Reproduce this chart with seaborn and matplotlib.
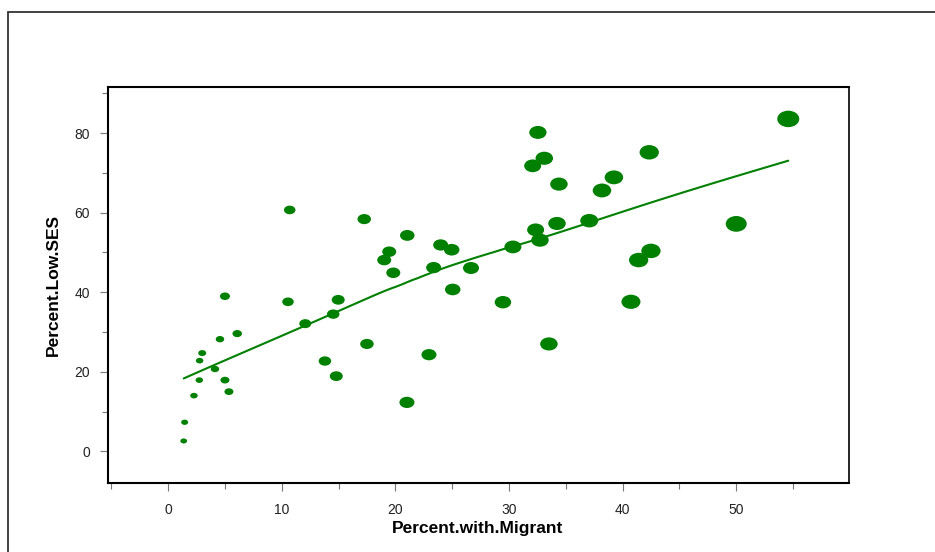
import numpy as np
import pandas as pd
import matplotlib
matplotlib.use("Agg")
import matplotlib.pyplot as plt
from matplotlib.path import Path
from matplotlib.transforms import Affine2D
from matplotlib.patches import Rectangle
import seaborn as sns

# Share of pupils with migrant background vs. share with low SES, per school
pct_migrant = [1.36, 1.44, 2.26, 2.73, 2.76, 2.99, 4.11, 4.55, 4.99, 4.99,
               5.34, 6.07, 10.69, 10.54, 12.06, 13.79, 14.52, 14.79, 14.96, 17.25,
               17.49, 19.01, 19.45, 19.81, 21.04, 21.01, 22.95, 23.36, 23.98, 24.95,
               25.04, 26.65, 29.46, 30.34, 32.08, 32.54, 33.10, 32.34, 32.72, 33.51,
               34.22, 34.39, 37.06, 38.18, 39.23, 40.73, 41.41, 42.49, 42.34, 50.00,
               54.58]
pct_low_ses = [2.6, 7.3, 14.0, 17.9, 22.8, 24.7, 20.7, 28.2, 39.0, 17.9,
               15.0, 29.6, 60.7, 37.6, 32.1, 22.7, 34.5, 18.9, 38.1, 58.4,
               27.0, 48.1, 50.2, 44.9, 54.3, 12.3, 24.3, 46.2, 51.9, 50.7,
               40.7, 46.1, 37.5, 51.4, 71.8, 80.2, 73.7, 55.7, 53.1, 27.0,
               57.3, 67.2, 58.0, 65.6, 68.9, 37.6, 48.1, 50.4, 75.2, 57.2,
               83.6]
weight = [6.7, 7.0, 7.5, 7.5, 7.5, 8.0, 8.5, 8.5, 10.0, 9.0,
          9.0, 9.5, 11.5, 11.5, 12.0, 12.5, 12.5, 13.0, 13.0, 13.5,
          13.5, 14.0, 14.0, 14.0, 14.5, 15.0, 15.0, 15.0, 15.0, 15.5,
          15.5, 16.0, 16.5, 17.0, 17.0, 17.3, 17.5, 17.0, 17.5, 17.5,
          17.5, 17.5, 18.0, 18.5, 18.5, 19.0, 19.3, 19.3, 19.3, 21.0,
          22.0]

x_ticks_major = [0, 10, 20, 30, 40, 50]
y_ticks_major = [0, 20, 40, 60, 80]

df = pd.DataFrame({"Percent.with.Migrant": pct_migrant,
                   "Percent.Low.SES": pct_low_ses,
                   "weight": weight})
# marker area grows with the square of the weight (diameter-like)
df["area"] = (df["weight"] * 0.72) ** 2


def local_linear_smooth(x, y, grid, span=0.9):
    """Tricube-weighted local linear regression (loess, degree 1)."""
    x = np.asarray(x, float)
    y = np.asarray(y, float)
    k = int(np.floor(span * len(x)))
    out = []
    for x0 in grid:
        d = np.abs(x - x0)
        h = np.sort(d)[k - 1]
        w = np.clip(1 - (d / h) ** 3, 0, 1) ** 3
        coef = np.polyfit(x, y, 1, w=np.sqrt(w))
        out.append(np.polyval(coef, x0))
    return np.array(out)


grid = np.linspace(df["Percent.with.Migrant"].min(), df["Percent.with.Migrant"].max(), 120)
smooth = pd.DataFrame({"Percent.with.Migrant": grid,
                       "Percent.Low.SES": local_linear_smooth(df["Percent.with.Migrant"],
                                                              df["Percent.Low.SES"], grid)})

sns.set_style("white")
plt.rcParams["font.family"] = ["Liberation Sans", "DejaVu Sans"]

W, H = 935, 552
fig = plt.figure(figsize=(W / 100, H / 100), dpi=100)
ax = fig.add_axes([108.3 / W, 1 - 483.3 / H, (848.7 - 108.3) / W, (483.3 - 86.7) / H])

green = "#008000"
ellipse = Path.unit_circle().transformed(Affine2D().scale(1.0, 0.75))

amin, amax = df["area"].min(), df["area"].max()
sns.scatterplot(data=df, x="Percent.with.Migrant", y="Percent.Low.SES",
                size="area", sizes=(amin, amax), size_norm=(amin, amax),
                marker=ellipse, color=green, linewidth=0, legend=False, ax=ax)
sns.lineplot(data=smooth, x="Percent.with.Migrant", y="Percent.Low.SES",
             color=green, linewidth=1.5, ax=ax)

ax.set_xlim(-5.28, 59.9)
ax.set_ylim(-8.05, 91.7)
ax.set_xticks(x_ticks_major)
ax.set_xticks([-5, 5, 15, 25, 35, 45, 55], minor=True)
ax.set_yticks(y_ticks_major)
ax.set_yticks([10, 30, 50, 70, 90], minor=True)
ax.tick_params(axis="both", which="major", direction="out", length=6, width=0.8,
               color="#777777", labelsize=10, labelcolor="#222222",
               bottom=True, left=True)
ax.tick_params(axis="both", which="minor", direction="out", length=4, width=0.8,
               color="#777777", bottom=True, left=True)
ax.tick_params(axis="x", which="major", pad=8)
ax.tick_params(axis="y", which="major", pad=7)

for side in ["left", "bottom", "top", "right"]:
    ax.spines[side].set_visible(True)
    ax.spines[side].set_color("black")
    ax.spines[side].set_linewidth(1.5)
ax.spines["right"].set_linewidth(1.2)

ax.set_xlabel("")
ax.set_ylabel("")
fig.text(478 / W, 1 - 529 / H, "Percent.with.Migrant", ha="center", va="center",
         fontsize=12.5, fontweight="bold", color="black")
fig.text(53.3 / W, 1 - 285 / H, "Percent.Low.SES", ha="center", va="center",
         rotation=90, fontsize=12.5, fontweight="bold", color="black")

# outer panel frame
fig.patches.append(Rectangle((8 / W, -0.2), 1.2, 1.2 - 12.3 / H,
                             transform=fig.transFigure, fill=False,
                             edgecolor="#333333", linewidth=1.3))

fig.savefig("out.png", dpi=100)
